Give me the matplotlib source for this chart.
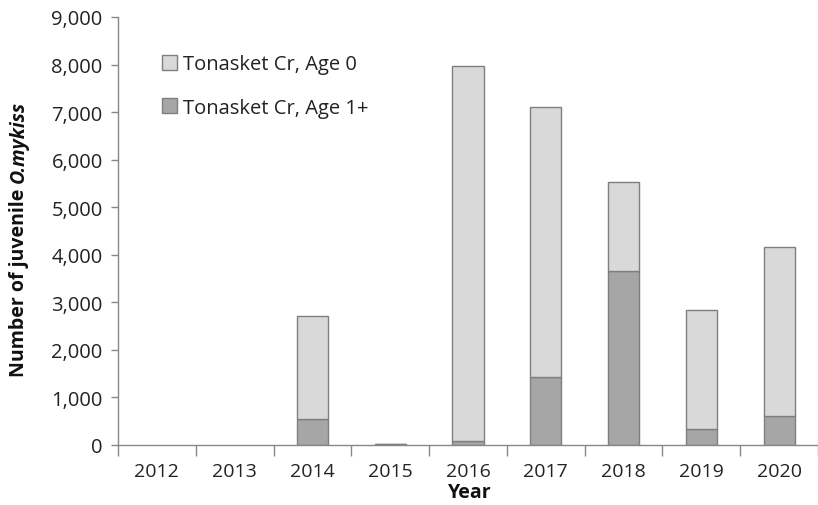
import matplotlib
matplotlib.use("Agg")
import matplotlib.pyplot as plt
import numpy as np
from matplotlib.ticker import FuncFormatter, FixedLocator
from matplotlib.patches import Patch

years = ["2012", "2013", "2014", "2015", "2016", "2017", "2018", "2019", "2020"]
age1 = [0, 0, 545, 20, 75, 1430, 3650, 340, 610]
age0 = [0, 0, 2170, 10, 7900, 5680, 1870, 2490, 3550]
legend_labels = ["Tonasket Cr, Age 0", "Tonasket Cr, Age 1+"]

plt.rcParams['font.family'] = ['Open Sans', 'DejaVu Sans']

fig = plt.figure(figsize=(8.18, 5.06), dpi=100)
ax = fig.add_axes([118/818, 1-446/506, 700/818, (446-18)/506])

x = np.arange(len(years))
c0 = '#d9d9d9'
c1 = '#a6a6a6'
ec = '#7f7f7f'
lw1 = [1.0 if v > 0 else 0 for v in age1]
lw0 = [1.0 if v > 0 else 0 for v in age0]
ax.bar(x, age1, width=0.4, color=c1, edgecolor=ec, linewidth=lw1)
ax.bar(x, age0, bottom=age1, width=0.4, color=c0, edgecolor=ec, linewidth=lw0)

ax.set_xlim(-0.5, len(years) - 0.5)
ax.set_ylim(0, 9000)
ax.set_yticks(np.arange(0, 9001, 1000))
ax.yaxis.set_major_formatter(FuncFormatter(lambda v, p: f"{int(v):,}"))
ax.set_xticks(x)
ax.set_xticklabels(years)
ax.xaxis.set_minor_locator(FixedLocator(np.arange(-0.5, len(years), 1.0)))
ax.tick_params(axis='x', which='major', length=0, labelsize=14, pad=12, colors='#222222')
ax.tick_params(axis='x', which='minor', length=8, width=1, color='#888888')
ax.tick_params(axis='y', length=5, width=1, labelsize=14.5, pad=6)
ax.tick_params(axis='y', colors='#888888', labelcolor='#222222')

for s in ['top', 'right']:
    ax.spines[s].set_visible(False)
for s in ['left', 'bottom']:
    ax.spines[s].set_color('#888888')
    ax.spines[s].set_linewidth(1.0)

handles = [Patch(facecolor=c0, edgecolor=ec, linewidth=1.0),
           Patch(facecolor=c1, edgecolor=ec, linewidth=1.0)]
leg = ax.legend(handles=handles, labels=legend_labels, loc='upper left',
                bbox_to_anchor=(0.037, 0.955),
                frameon=False, fontsize=14.5, handlelength=0.75, handleheight=0.75,
                handletextpad=0.3, labelspacing=1.15)
for t in leg.get_texts():
    t.set_color('#222222')

fig.text(470/818, 1-493/506, "Year", ha='center', va='center', fontsize=14,
         fontweight='bold', color='#111111')

# y label: two parts
fig.canvas.draw()
r = fig.canvas.get_renderer()
t1 = fig.text(19/818, 1-377/506, "Number of juvenile ", rotation=90, ha='center', va='bottom',
              fontsize=14, fontweight='bold', color='#111111')
bb = t1.get_window_extent(renderer=r)
t2 = fig.text(19/818, bb.y1/fig.bbox.height, "O.mykiss", rotation=90, ha='center', va='bottom',
              fontsize=14, fontweight='bold', fontstyle='italic', color='#111111')

fig.savefig("out.png", dpi=100)
